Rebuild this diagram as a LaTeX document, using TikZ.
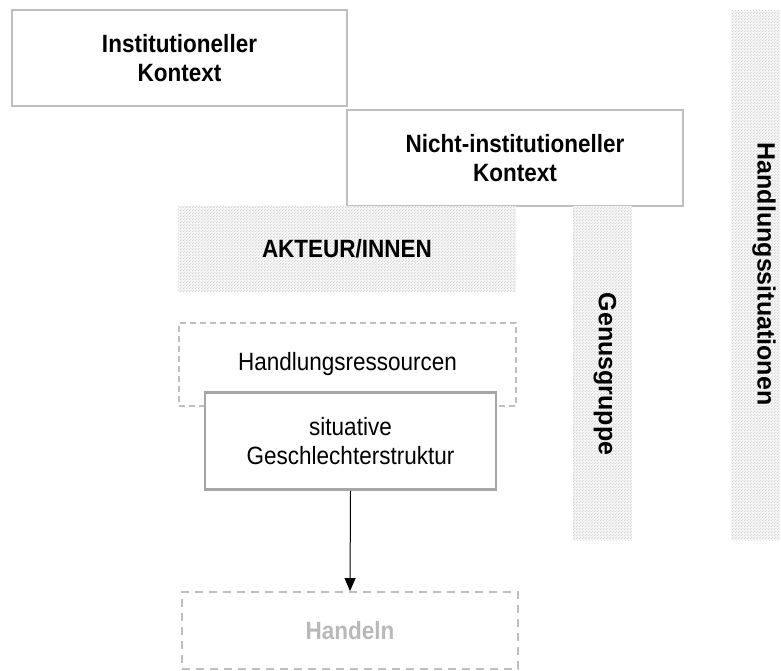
\documentclass[tikz,border=0pt]{standalone}
\usepackage{fontspec}
\setmainfont{Liberation Sans}[FakeStretch=0.9]
\newfontfamily\vertfont{Liberation Sans}
\usepackage{tikz}
\usetikzlibrary{arrows.meta,patterns.meta,positioning}

\tikzdeclarepattern{
	name=finedots,
	type=uncolored,
	bottom left={(0pt,0pt)},
	top right={(3pt,3pt)},
	tile size={(3pt,3pt)},
	code={
		\fill (0.75pt,0.75pt) circle (0.6pt);
		\fill (2.25pt,2.25pt) circle (0.6pt);
	}
}

\begin{document}
\begin{tikzpicture}[
		x=1pt, y=1pt,
		font=\fontsize{25}{29}\selectfont,
		kontext/.style={draw=gray!50, line width=1.5pt, fill=white, align=center, inner sep=0pt},
		dotted area/.style={pattern=finedots, pattern color=gray!45, preaction={fill=gray!8}, draw=none, inner sep=0pt},
		dashbox/.style={draw=gray!50, line width=1.2pt, dash pattern=on 6pt off 4pt, align=center, inner sep=0pt},
		strukbox/.style={draw=gray!70, line width=2.6pt, fill=white, align=center, inner sep=0pt},
		pfeil/.style={-{Triangle[length=13pt,width=11pt]}, line width=1pt}
		]
		\useasboundingbox (0,0) rectangle (781,-670);
		
		% Draw contexts
		\node[kontext, minimum width=335pt, minimum height=96pt] (inst) at (179.5,-58)
		{\bfseries Institutioneller\\\bfseries Kontext};
		\node[kontext, minimum width=336pt, minimum height=96pt] (nicht) at (515,-158)
		{\bfseries Nicht-institutioneller\\\bfseries Kontext};
		
		% Draw dotted areas
		\node[dotted area, minimum width=338pt, minimum height=86pt] (akteur) at (347,-249) {};
		\node[font=\fontsize{25}{29}\selectfont\bfseries] at (akteur.center) {AKTEUR/INNEN};
		\node[dotted area, minimum width=59pt, minimum height=334pt] (genus) at (602.5,-373) {};
		\node[font=\vertfont\fontsize{25}{29}\selectfont\bfseries, rotate=-90] at (605,-374) {Genusgruppe};
		\node[dotted area, minimum width=49pt, minimum height=530pt] (situ) at (755.5,-275) {};
		\node[font=\vertfont\fontsize{25}{29}\selectfont\bfseries, rotate=-90] at (764,-274) {Handlungssituationen};
		
		% Draw actor boxes
		\node[dashbox, minimum width=337pt, minimum height=83pt] (ressourcen) at (347.5,-364.5)
		{Handlungsressourcen};
		\node[strukbox, minimum width=291pt, minimum height=97pt] (struktur) at (350.5,-441)
		{situative\\Geschlechterstruktur};
		\node[dashbox, line width=1.8pt, dash pattern=on 8pt off 6pt, minimum width=336pt, minimum height=77pt,
		text=gray!55] (handeln) at (350,-630.5) {\bfseries Handeln};
		
		\draw[pfeil] (struktur.south) -- (handeln.north);
		\end{tikzpicture}
\end{document}
